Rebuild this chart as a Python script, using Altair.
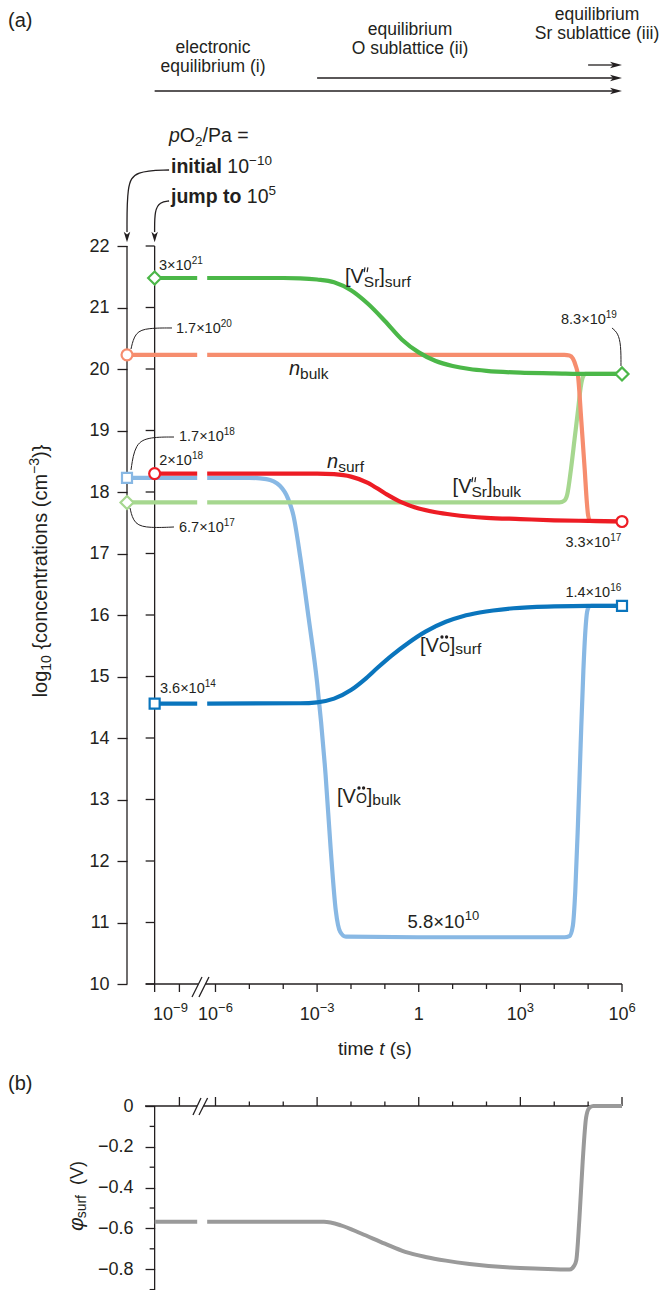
import altair as alt
import pandas as pd

# ======================================================================= data
# Positions along the broken time axis are log10(t / s).  Left of the break the
# axis is compressed: the initial state, the instant of the pO2 jump and the
# 10^-9 tick sit at the display positions below.
U_INITIAL = -8.612
U_JUMP = -7.796
U_1E9 = -7.065
U_GAP = (-6.54, -6.245)

# (a) log10 {concentration / cm^-3}
vsr_surf_t = [U_JUMP, -6.54, -6.245, -4.0, -3.5, -3.0, -2.5, -2.0, -1.5, -1.0, -0.5, 0.0, 0.5, 1.0, 1.5, 2.0, 3.0, 4.0, 5.0, 6.0]
vsr_surf_c = [21.48, 21.48, 21.48, 21.48, 21.475, 21.455, 21.41, 21.28, 21.06, 20.78, 20.48, 20.27, 20.13, 20.05, 20.00, 19.97, 19.94, 19.93, 19.92, 19.92]

vsr_bulk_t = [U_INITIAL, -6.54, -6.245, 4.15, 4.30, 4.38, 4.50, 4.60, 4.70, 4.78, 4.84, 4.92, 6.0]
vsr_bulk_c = [17.83, 17.83, 17.83, 17.83, 17.86, 17.95, 18.40, 18.86, 19.32, 19.70, 19.86, 19.92, 19.92]

n_bulk_t = [U_INITIAL, -6.54, -6.245, 4.30, 4.45, 4.55, 4.63, 4.70, 4.80, 4.90, 4.96, 5.00, 5.06, 6.0]
n_bulk_c = [20.23, 20.23, 20.23, 20.23, 20.22, 20.17, 20.06, 19.90, 19.15, 18.36, 17.85, 17.62, 17.53, 17.52]

n_surf_t = [U_JUMP, -6.54, -6.245, -3.0, -2.5, -2.0, -1.5, -1.0, -0.5, 0.0, 0.5, 1.0, 2.0, 3.0, 4.0, 5.0, 6.0]
n_surf_c = [18.30, 18.30, 18.30, 18.30, 18.29, 18.25, 18.15, 17.98, 17.83, 17.73, 17.67, 17.63, 17.58, 17.56, 17.54, 17.53, 17.52]

vo_surf_t = [U_JUMP, -6.54, -6.245, -3.5, -3.0, -2.5, -2.0, -1.6, -1.2, -0.8, -0.3, 0.2, 0.8, 1.3, 1.8, 2.8, 4.0, 5.0, 6.0]
vo_surf_c = [14.56, 14.56, 14.56, 14.565, 14.58, 14.64, 14.78, 14.95, 15.15, 15.34, 15.55, 15.73, 15.89, 15.98, 16.04, 16.11, 16.14, 16.15, 16.15]

vo_bulk_t = [U_INITIAL, -6.54, -6.245, -5.0, -4.5, -4.1, -3.85, -3.7, -3.5, -3.25, -3.0, -2.75, -2.6, -2.45, -2.32, -2.15,
             0.0, 2.0, 4.3, 4.45, 4.55, 4.62, 4.70, 4.78, 4.86, 4.92, 4.97, 5.03, 5.1, 6.0]
vo_bulk_c = [18.23, 18.23, 18.23, 18.23, 18.21, 18.10, 17.88, 17.62, 16.95, 15.95, 14.90, 13.40, 12.20, 11.20, 10.85, 10.77,
             10.76, 10.76, 10.76, 10.78, 10.95, 11.50, 12.60, 13.90, 15.10, 15.75, 16.05, 16.14, 16.15, 16.15]

# (b) surface potential / V
phi_t = [U_JUMP, -6.54, -6.245, -2.8, -2.3, -1.7, -1.0, -0.4, 0.2, 0.8, 1.5, 2.7, 3.6, 4.45, 4.58, 4.65, 4.74, 4.84, 4.94, 5.03, 5.15, 6.0]
phi_v = [-0.567, -0.567, -0.567, -0.568, -0.585, -0.625, -0.675, -0.715, -0.74, -0.758, -0.774, -0.792, -0.798, -0.802,
         -0.785, -0.757, -0.56, -0.27, -0.057, -0.01, 0.0, 0.0]

# open markers: initial state, right after the jump, final state
marker_t = [U_INITIAL, U_INITIAL, U_INITIAL, U_JUMP, U_JUMP, U_JUMP, 6.0, 6.0, 6.0]
marker_c = [20.23, 18.23, 17.83, 21.48, 18.30, 14.56, 19.92, 17.52, 16.15]
marker_series = ["n_bulk", "vo_bulk", "vsr_bulk", "vsr_surf", "n_surf", "vo_surf", "vsr_surf", "n_surf", "vo_surf"]

# value annotations  (mantissa x 10, exponent)
value_base = ["3×10", "1.7×10", "1.7×10", "2×10", "6.7×10", "3.6×10", "8.3×10", "3.3×10", "1.4×10", "5.8×10"]
value_exp = ["21", "20", "18", "18", "17", "14", "19", "17", "16", "10"]

# axes
y_ticks_a = list(range(10, 23))
x_major = [U_1E9, -6, -3, 0, 3, 6]
x_minor = [-5, -4, -2, -1, 1, 2, 4, 5]
x_label_base = ["10", "10", "10", "1", "10", "10"]
x_label_exp = ["−9", "−6", "−3", "", "3", "6"]
y_major_b = [0, -0.2, -0.4, -0.6, -0.8]
y_minor_b = [-0.1, -0.3, -0.5, -0.7, -0.9]

# ===================================================================== styles
FONT = "Liberation Sans"
INK = "#231f20"
AXW = 1.3
COLORS = {"vsr_surf": "#4bb748", "vsr_bulk": "#a6d78f", "n_bulk": "#f68d6e", "n_surf": "#ed1c24",
          "vo_surf": "#0a75bd", "vo_bulk": "#88b8e4", "phi": "#9a9a9a"}
SHAPE = {"n_bulk": "circle", "n_surf": "circle", "vo_bulk": "square", "vo_surf": "square",
         "vsr_bulk": "diamond", "vsr_surf": "diamond"}
SHAPE_SIZE = {"circle": 120, "square": 100, "diamond": 170}

BIG, SUB = 20, 15.5        # curve labels
VAL, SUP = 14.5, 10        # value annotations
TICK = 18                  # tick labels

LEFT, TOP, W, H = 127, 246, 495, 1044
X_DOM = [U_INITIAL, 6.0]
PXU = W / (X_DOM[1] - X_DOM[0])          # pixels per decade
A_PX = 61.5                              # pixels per unit of log10 c
A_DOM = [22 - H / A_PX, 22.0]
B_PX = 204.0                             # pixels per volt
B_ZERO = 860.0                           # 0 V this far below the top of the plot
B_DOM = [-(H - B_ZERO) / B_PX, B_ZERO / B_PX]

XS = alt.Scale(domain=X_DOM, nice=False, zero=False)
YAS = alt.Scale(domain=A_DOM, nice=False, zero=False)
YBS = alt.Scale(domain=B_DOM, nice=False, zero=False)
ONE = pd.DataFrame({"k": [0]})


def X(f):
    return alt.X(f, type="quantitative", scale=XS, axis=None)


def YA(f, axis=None):
    return alt.Y(f, type="quantitative", scale=YAS, axis=axis, title=None)


def YB(f, axis=None):
    return alt.Y(f, type="quantitative", scale=YBS, axis=axis, title=None)


# ----------------------------------------------------------- rich-text helper
W_REG = {ch: 556 for ch in "0123456789"}
W_REG.update({' ': 278, '(': 333, ')': 333, '[': 278, ']': 278, '{': 334, '}': 334, '.': 278,
              '/': 278, '=': 584, '×': 584, '−': 584, "'": 191, 'φ': 600})
W_REG.update(dict(zip("ABCDEFGHIJKLMNOPQRSTUVWXYZ",
                      [667, 667, 722, 722, 667, 611, 778, 722, 278, 500, 667, 556, 833, 722, 778, 667, 778, 722,
                       667, 611, 722, 667, 944, 667, 667, 611])))
W_REG.update(dict(zip("abcdefghijklmnopqrstuvwxyz",
                      [556, 556, 500, 556, 556, 278, 556, 556, 222, 222, 500, 222, 833, 556, 556, 556, 556, 333,
                       500, 278, 556, 500, 722, 500, 500, 500])))
W_BOLD = dict(W_REG)
W_BOLD.update({'i': 278, 'j': 278, 'l': 278, 'm': 889, 'n': 611, 'o': 611, 'p': 611, 't': 333, 'u': 611})


def P(t, size=BIG, dy=0.0, bold=False, italic=False, adv=True, shift=0.0):
    return dict(t=t, size=size, dy=dy, bold=bold, italic=italic, adv=adv, shift=shift, kind="text")


def M(kind, shift=0.0, dy=0.0):
    """a small drawn diacritic (double prime / two dots) placed relative to the text cursor"""
    return dict(kind=kind, shift=shift, dy=dy, adv=False, t="", size=0, bold=False, italic=False)


def w_of(s, size, bold):
    tbl = W_BOLD if bold else W_REG
    return sum(tbl.get(ch, 556) for ch in s) * size / 1000.0


def text_w(p):
    if p["kind"] != "text":
        return 0.0
    return w_of(p["t"], p["size"], p["bold"])


DPRIME = "M-0.25,-1L-0.5,0.5M0.65,-1L0.4,0.5"


def rich(pieces, anchor, align="left", angle=0, color=INK):
    widths = [text_w(p) for p in pieces]
    total = sum(w for w, p in zip(widths, pieces) if p["adv"])
    cur = {"left": 0.0, "center": -total / 2.0, "right": -total}[align]
    out = []
    for w, p in zip(widths, pieces):
        if p["kind"] == "dprime":
            df = pd.DataFrame({"t": [anchor[1] + (cur + p["shift"]) / PXU], "c": [anchor[2] - p["dy"] / A_PX]})
            out.append(alt.Chart(df).mark_point(shape=DPRIME, filled=False, size=42, stroke=color,
                                                strokeWidth=1.2, opacity=1).encode(x=X("t"), y=YA("c")))
            continue
        if p["kind"] == "dots":
            df = pd.DataFrame({"t": [anchor[1] + (cur + p["shift"] + d) / PXU for d in (-2.3, 2.3)],
                               "c": [anchor[2] - p["dy"] / A_PX] * 2})
            out.append(alt.Chart(df).mark_point(shape="circle", filled=True, size=11, color=color,
                                                opacity=1).encode(x=X("t"), y=YA("c")))
            continue
        # blanks at either end are turned into cursor advance (SVG drops them)
        body = p["t"].strip(" ")
        lead = len(p["t"]) - len(p["t"].lstrip(" "))
        start = cur + lead * w_of(" ", p["size"], p["bold"])
        if anchor[0] == "d":
            base = alt.Chart(pd.DataFrame({"t": [anchor[1]], "c": [anchor[2]]})).encode(x=X("t"), y=YA("c"))
        else:
            base = alt.Chart(ONE).encode(x=alt.value(anchor[1]), y=alt.value(anchor[2]))
        kw = dict(text=body, align="left", baseline="alphabetic", dx=round(start + p["shift"], 2),
                  dy=p["dy"], fontSize=p["size"], font=FONT, color=color)
        if p["bold"]:
            kw["fontWeight"] = "bold"
        if p["italic"]:
            kw["fontStyle"] = "italic"
        if angle:
            kw["angle"] = angle
        out.append(base.mark_text(**kw))
        if p["adv"]:
            cur += w
    return out


def rules(df, yenc, color=INK, width=AXW):
    enc = dict(x=X("t"), y=yenc("c"))
    if "t2" in df:
        enc["x2"] = "t2"
    if "c2" in df:
        enc["y2"] = "c2"
    return alt.Chart(df).mark_rule(color=color, strokeWidth=width).encode(**enc)


def curve(t, c, key, yenc, width=4.2):
    df = pd.DataFrame({"t": t, "c": c, "seg": [0 if u <= U_GAP[0] + 1e-9 else 1 for u in t]})
    return alt.Chart(df).mark_line(color=COLORS[key], strokeWidth=width, interpolate="monotone",
                                   strokeCap="butt", strokeJoin="round").encode(
        x=X("t"), y=yenc("c"), detail="seg:N")


def path(t, c, width=1.0, interp="basis"):
    df = pd.DataFrame({"t": t, "c": c, "i": list(range(len(t)))})
    return alt.Chart(df).mark_line(color=INK, strokeWidth=width, interpolate=interp).encode(
        x=X("t"), y=YA("c"), order="i:Q")


ARROW_R = "M-1,-0.55L1,0L-1,0.55L-0.5,0Z"
ARROW_D = "M-0.62,-1L0,1L0.62,-1L0,-0.5Z"

# ================================================================== panel (a)
A = []
axis_a = alt.Axis(orient="left", values=y_ticks_a, domain=False, grid=False, tickSize=10, tickColor=INK,
                  tickWidth=AXW, labelFont=FONT, labelFontSize=TICK, labelColor=INK, labelPadding=8)
A.append(alt.Chart(pd.DataFrame({"t": [U_INITIAL], "c": [10.0], "c2": [22.0]})).mark_rule(
    color=INK, strokeWidth=AXW).encode(x=X("t"), y=YA("c", axis=axis_a), y2="c2"))
A.append(rules(pd.DataFrame({"t": [U_JUMP], "c": [10 - 8 / A_PX], "c2": [22.0]}), YA))
A.append(rules(pd.DataFrame({"c": y_ticks_a, "t": U_JUMP, "t2": U_JUMP - 9 / PXU}), YA))
A.append(rules(pd.DataFrame({"t": [U_JUMP - 9 / PXU, -6.295], "t2": [-6.502, 6.0], "c": 10.0}), YA))
A.append(rules(pd.DataFrame({"t": x_major, "c": 10.0, "c2": 10 - 8 / A_PX}), YA))
A.append(rules(pd.DataFrame({"t": x_minor, "c": 10.0, "c2": 10 - 5 / A_PX}), YA))
A.append(rules(pd.DataFrame({"t": [-6.693, -6.487], "t2": [-6.398, -6.192], "c": 9.789, "c2": 10.114}), YA))

for key, t, c in [("vo_bulk", vo_bulk_t, vo_bulk_c), ("vsr_bulk", vsr_bulk_t, vsr_bulk_c),
                  ("n_bulk", n_bulk_t, n_bulk_c), ("vo_surf", vo_surf_t, vo_surf_c),
                  ("n_surf", n_surf_t, n_surf_c), ("vsr_surf", vsr_surf_t, vsr_surf_c)]:
    A.append(curve(t, c, key, YA))

mk = pd.DataFrame({"t": marker_t, "c": marker_c,
                   "shape": [SHAPE[s] for s in marker_series],
                   "col": [COLORS[s] for s in marker_series]})
mk["sz"] = [SHAPE_SIZE[s] for s in mk["shape"]]
A.append(alt.Chart(mk).mark_point(filled=True, strokeWidth=2.2, opacity=1).encode(
    x=X("t"), y=YA("c"), shape=alt.Shape("shape:N", scale=None), stroke=alt.Stroke("col:N", scale=None),
    fill=alt.value("white"), size=alt.Size("sz:Q", scale=None)))

# leader lines of the value annotations
A.append(path([-8.494, -8.376, -7.992, -7.284], [20.325, 20.602, 20.667, 20.667]))
A.append(path([-8.494, -8.376, -7.933, -7.225], [18.358, 18.797, 18.894, 18.894]))
A.append(path([-8.523, -8.405, -7.933, -7.225], [17.740, 17.463, 17.415, 17.431]))
A.append(path([5.704, 5.882, 5.970, 5.970], [20.667, 20.585, 20.390, 20.049]))

# pO2 arrows pointing at the two vertical axes
A.append(path([-7.37, -8.376, -8.612, -8.612], [23.236, 23.220, 22.992, 22.228], width=1.3))
A.append(path([-7.37, -7.638, -7.797, -7.797], [22.732, 22.715, 22.585, 22.228], width=1.3))
A.append(alt.Chart(pd.DataFrame({"t": [U_INITIAL, U_JUMP], "c": [22.146, 22.146]})).mark_point(
    shape=ARROW_D, filled=True, size=110, color=INK, opacity=1).encode(x=X("t"), y=YA("c")))

# the three regime arrows on top
for t0, py in [(U_JUMP, -155), (-3.0, -168), (5.0, -181)]:
    A.append(alt.Chart(pd.DataFrame({"t": [t0], "t2": [6 - 6 / PXU]})).mark_rule(
        color=INK, strokeWidth=1.3).encode(x=X("t"), x2="t2", y=alt.value(py)))
    A.append(alt.Chart(pd.DataFrame({"t": [6 - 6 / PXU]})).mark_point(
        shape=ARROW_R, filled=True, size=144, color=INK, opacity=1).encode(x=X("t"), y=alt.value(py)))

# ---------------------------------------------------------------- texts (a)
A += rich([P("(a)", 20)], ("p", -119, -219))
A += rich([P("electronic", 17.5)], ("p", 86, -193), align="center")
A += rich([P("equilibrium (i)", 17.5)], ("p", 86, -174), align="center")
A += rich([P("equilibrium", 17.5)], ("p", 283, -211), align="center")
A += rich([P("O sublattice (ii)", 17.5)], ("p", 283, -192), align="center")
A += rich([P("equilibrium", 17.5)], ("p", 470, -226), align="center")
A += rich([P("Sr sublattice (iii)", 17.5)], ("p", 470, -207), align="center")

A += rich([P("p", 19.5, italic=True), P("O", 19.5), P("2", 13.5, dy=4), P("/Pa =", 19.5)], ("p", 42, -104))
A += rich([P("initial ", 19.5, bold=True), P("10", 19.5), P("−10", 13.5, dy=-8)], ("p", 44, -73))
A += rich([P("jump to ", 19.5, bold=True), P("10", 19.5), P("5", 13.5, dy=-8)], ("p", 44, -43))

A += rich([P("log", 20), P("10", 14, dy=4), P(" {concentrations (cm", 20), P("−3", 14, dy=-8),
           P(")}", 20)], ("p", -80, 325), align="center", angle=270)

value_pos = [(-7.667, 21.61), (-7.166, 20.585), (-7.077, 18.829), (-7.66, 18.44), (-7.077, 17.35),
             (-7.638, 14.73), (4.20, 20.732), (4.33, 17.106), (4.33, 16.293), (-0.33, 10.911)]
for b, e, (u, v) in zip(value_base, value_exp, value_pos):
    if b == "5.8×10":
        A += rich([P(b, 18.5), P(e, 13, dy=-8)], ("d", u, v))
    else:
        A += rich([P(b, VAL), P(e, SUP, dy=-6)], ("d", u, v))


def vsr(kind):
    return [P("[V"), M("dprime", shift=2.0, dy=-12.5), P("Sr", SUB, dy=4), P("]"), P(kind, SUB, dy=4)]


def vo(kind):
    return [P("[V"), M("dots", shift=5.4, dy=-15), P("O", 14), P("]"), P(kind, SUB, dy=2)]


A += rich(vsr("surf"), ("d", -2.18, 21.398))
A += rich(vsr("bulk"), ("d", 1.0, 17.984))
A += rich([P("n", italic=True), P("bulk", SUB, dy=4)], ("d", -3.830, 19.902))
A += rich([P("n", italic=True), P("surf", SUB, dy=4)], ("d", -2.708, 18.390))
A += rich(vo("surf"), ("d", 0.037, 15.398))
A += rich(vo("bulk"), ("d", -2.413, 12.943))

x_label_pos = [-7.328, -6, -3, 0, 3, 6]
for u, b, e in zip(x_label_pos, x_label_base, x_label_exp):
    pcs = [P(b, TICK)] + ([P(e, 13, dy=-8)] if e else [])
    A += rich(pcs, ("d", u, 9.415), align="center")
A += rich([P("time ", 19), P("t", 19, italic=True), P(" (s)", 19)], ("d", -1.292, 8.846), align="center")

A += rich([P("(b)", 20)], ("p", -119, 844))
A += rich([P("φ", 21, italic=True), P("surf", 14, dy=3), P("  (V)", 18)], ("p", -44, 950),
          align="center", angle=270)

# ================================================================== panel (b)
B = []
axis_b = alt.Axis(orient="left", offset=-(U_JUMP - U_INITIAL) * PXU, values=y_major_b, domain=False,
                  grid=False, tickSize=9.6, tickColor=INK, tickWidth=AXW, labelFont=FONT, labelFontSize=TICK,
                  labelColor=INK, labelPadding=12,
                  labelExpr="datum.value == 0 ? '0' : format(datum.value, '.1f')")
B.append(alt.Chart(pd.DataFrame({"t": [U_JUMP], "c": [B_DOM[0]], "c2": [0.0]})).mark_rule(
    color=INK, strokeWidth=AXW).encode(x=X("t"), y=YB("c", axis=axis_b), y2="c2"))
B.append(rules(pd.DataFrame({"c": y_minor_b, "t": U_JUMP, "t2": U_JUMP - 5 / PXU}), YB))
B.append(rules(pd.DataFrame({"t": [U_JUMP - 9.6 / PXU, -6.351], "t2": [-6.540, 6.0], "c": 0.0}), YB))
B.append(rules(pd.DataFrame({"t": x_major, "c": 0.0, "c2": 9 / B_PX}), YB))
B.append(rules(pd.DataFrame({"t": x_minor, "c": 0.0, "c2": 4.5 / B_PX}), YB))
B.append(rules(pd.DataFrame({"t": [-6.664, -6.487], "t2": [-6.428, -6.233], "c": -0.0441, "c2": 0.0392}), YB))
B.append(curve(phi_t, phi_v, "phi", YB, width=4.0))

layer_a = alt.layer(*A).resolve_axis(y="independent")
layer_b = alt.layer(*B).resolve_axis(y="independent")

chart = alt.layer(layer_a, layer_b).resolve_scale(y="independent").properties(
    width=W, height=H,
    autosize=alt.AutoSizeParams(type="none"),
    padding={"left": LEFT, "top": TOP, "right": 664 - LEFT - W, "bottom": 0},
).configure_view(stroke=None)

chart.save("out.html", embed_options={"renderer": "svg", "actions": False})
